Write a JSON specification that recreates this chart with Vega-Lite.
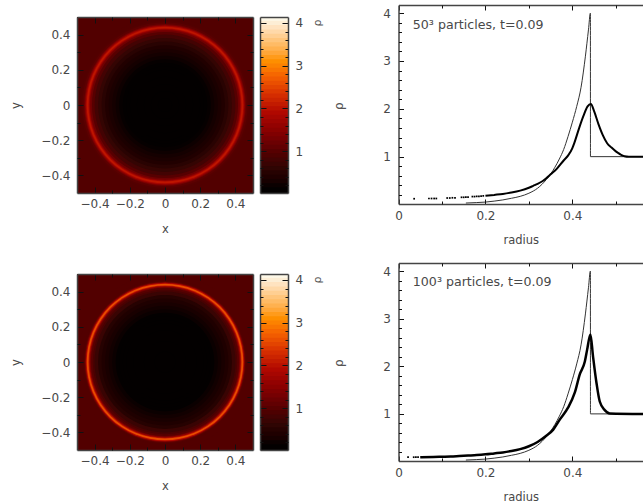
{"$schema":"https://vega.github.io/schema/vega-lite/v6.json","width":643,"height":504,"padding":0,"autosize":{"type":"none"},"background":"white","config":{"view":{"stroke":null},"axis":{"grid":false,"labelFont":"DejaVu Sans","labelFontSize":12,"labelColor":"#484848","labelFlush":false,"titleFont":"DejaVu Sans","titleFontSize":11.5,"titleFontWeight":"normal","titleColor":"#484848","tickColor":"#111","domainColor":"#444","domainWidth":1.5,"tickWidth":1,"labels":false}},"resolve":{"scale":{"x":"independent","y":"independent"},"axis":{"x":"independent","y":"independent"}},"datasets":{"img50":[{"r":0.5,"rho":1.0},{"r":0.48,"rho":1.02},{"r":0.47,"rho":1.1},{"r":0.46,"rho":1.3},{"r":0.455,"rho":1.55},{"r":0.45,"rho":1.85},{"r":0.445,"rho":2.1},{"r":0.44,"rho":2.1},{"r":0.435,"rho":1.85},{"r":0.43,"rho":1.55},{"r":0.425,"rho":1.3},{"r":0.415,"rho":1.05},{"r":0.4,"rho":0.85},{"r":0.38,"rho":0.7},{"r":0.36,"rho":0.58},{"r":0.34,"rho":0.48},{"r":0.32,"rho":0.4},{"r":0.3,"rho":0.33},{"r":0.28,"rho":0.27},{"r":0.26,"rho":0.22},{"r":0.24,"rho":0.18},{"r":0.22,"rho":0.15},{"r":0.2,"rho":0.13},{"r":0.16,"rho":0.11},{"r":0.12,"rho":0.1},{"r":0.08,"rho":0.1},{"r":0.04,"rho":0.1}],"img100":[{"r":0.5,"rho":1.0},{"r":0.47,"rho":1.0},{"r":0.46,"rho":1.1},{"r":0.455,"rho":1.4},{"r":0.45,"rho":2.0},{"r":0.445,"rho":2.6},{"r":0.44,"rho":2.65},{"r":0.435,"rho":2.1},{"r":0.43,"rho":1.6},{"r":0.425,"rho":1.25},{"r":0.42,"rho":1.05},{"r":0.41,"rho":0.9},{"r":0.4,"rho":0.75},{"r":0.38,"rho":0.55},{"r":0.36,"rho":0.45},{"r":0.34,"rho":0.37},{"r":0.32,"rho":0.3},{"r":0.3,"rho":0.25},{"r":0.28,"rho":0.2},{"r":0.26,"rho":0.17},{"r":0.24,"rho":0.14},{"r":0.22,"rho":0.12},{"r":0.18,"rho":0.1},{"r":0.12,"rho":0.09},{"r":0.06,"rho":0.09}],"p50":[{"r":0.5625,"rho":1.0},{"r":0.53,"rho":1.0},{"r":0.52,"rho":1.01},{"r":0.51,"rho":1.05},{"r":0.5,"rho":1.11},{"r":0.49,"rho":1.19},{"r":0.48,"rho":1.28},{"r":0.47,"rho":1.45},{"r":0.46,"rho":1.68},{"r":0.45,"rho":1.95},{"r":0.4425,"rho":2.1},{"r":0.435,"rho":2.05},{"r":0.425,"rho":1.84},{"r":0.415,"rho":1.58},{"r":0.405,"rho":1.3},{"r":0.4,"rho":1.18},{"r":0.39,"rho":1.02},{"r":0.38,"rho":0.92},{"r":0.3635,"rho":0.74},{"r":0.35,"rho":0.63},{"r":0.34,"rho":0.55},{"r":0.33,"rho":0.48},{"r":0.32,"rho":0.43},{"r":0.31,"rho":0.39},{"r":0.3,"rho":0.35},{"r":0.28,"rho":0.29},{"r":0.26,"rho":0.25},{"r":0.24,"rho":0.22},{"r":0.22,"rho":0.2},{"r":0.2,"rho":0.18}],"p100":[{"r":0.5625,"rho":1.0},{"r":0.486,"rho":1.01},{"r":0.4745,"rho":1.08},{"r":0.463,"rho":1.26},{"r":0.4555,"rho":1.65},{"r":0.4475,"rho":2.21},{"r":0.4415,"rho":2.67},{"r":0.434,"rho":2.35},{"r":0.4287,"rho":2.1},{"r":0.417,"rho":1.83},{"r":0.4057,"rho":1.45},{"r":0.39,"rho":1.13},{"r":0.371,"rho":0.88},{"r":0.356,"rho":0.67},{"r":0.34,"rho":0.54},{"r":0.32,"rho":0.41},{"r":0.3,"rho":0.32},{"r":0.28,"rho":0.26},{"r":0.26,"rho":0.22},{"r":0.24,"rho":0.19},{"r":0.22,"rho":0.17},{"r":0.2,"rho":0.15},{"r":0.18,"rho":0.135},{"r":0.16,"rho":0.125},{"r":0.14,"rho":0.115},{"r":0.12,"rho":0.105},{"r":0.1,"rho":0.1},{"r":0.08,"rho":0.095},{"r":0.05,"rho":0.09}],"sedov":[{"r":0.155,"rho":0.03},{"r":0.18,"rho":0.04},{"r":0.2,"rho":0.05},{"r":0.22,"rho":0.07},{"r":0.24,"rho":0.095},{"r":0.26,"rho":0.13},{"r":0.28,"rho":0.17},{"r":0.3,"rho":0.235},{"r":0.32,"rho":0.34},{"r":0.34,"rho":0.52},{"r":0.36,"rho":0.78},{"r":0.37,"rho":0.95},{"r":0.38,"rho":1.15},{"r":0.39,"rho":1.42},{"r":0.4,"rho":1.72},{"r":0.41,"rho":2.05},{"r":0.42,"rho":2.45},{"r":0.43,"rho":3.1},{"r":0.437,"rho":3.65},{"r":0.4415,"rho":4.0},{"r":0.4416,"rho":1.0},{"r":0.5625,"rho":1.0}],"d50":[{"r":0.036,"rho":0.12},{"r":0.07,"rho":0.125},{"r":0.076,"rho":0.125},{"r":0.082,"rho":0.125},{"r":0.087,"rho":0.125},{"r":0.112,"rho":0.135},{"r":0.118,"rho":0.135},{"r":0.124,"rho":0.14},{"r":0.13,"rho":0.14},{"r":0.145,"rho":0.15},{"r":0.15,"rho":0.15},{"r":0.155,"rho":0.155},{"r":0.16,"rho":0.155},{"r":0.17,"rho":0.165},{"r":0.175,"rho":0.165},{"r":0.18,"rho":0.17},{"r":0.185,"rho":0.17},{"r":0.19,"rho":0.175},{"r":0.195,"rho":0.18}],"d100":[{"r":0.022,"rho":0.09},{"r":0.035,"rho":0.09},{"r":0.04,"rho":0.09},{"r":0.045,"rho":0.09}],"frame":[{"x0":-0.5,"x1":0.5,"y0":-0.5,"y1":0.5,"rho":1.0}],"bar":[{"a":0.02,"b":4.14,"c":4.14},{"a":0.02,"b":4.05,"c":4.05},{"a":0.02,"b":3.95,"c":3.95},{"a":0.02,"b":3.85,"c":3.85},{"a":0.02,"b":3.75,"c":3.75},{"a":0.02,"b":3.65,"c":3.65},{"a":0.02,"b":3.55,"c":3.55},{"a":0.02,"b":3.45,"c":3.45},{"a":0.02,"b":3.35,"c":3.35},{"a":0.02,"b":3.25,"c":3.25},{"a":0.02,"b":3.15,"c":3.15},{"a":0.02,"b":3.05,"c":3.05},{"a":0.02,"b":2.95,"c":2.95},{"a":0.02,"b":2.85,"c":2.85},{"a":0.02,"b":2.75,"c":2.75},{"a":0.02,"b":2.65,"c":2.65},{"a":0.02,"b":2.55,"c":2.55},{"a":0.02,"b":2.45,"c":2.45},{"a":0.02,"b":2.35,"c":2.35},{"a":0.02,"b":2.25,"c":2.25},{"a":0.02,"b":2.15,"c":2.15},{"a":0.02,"b":2.05,"c":2.05},{"a":0.02,"b":1.95,"c":1.95},{"a":0.02,"b":1.85,"c":1.85},{"a":0.02,"b":1.75,"c":1.75},{"a":0.02,"b":1.65,"c":1.65},{"a":0.02,"b":1.55,"c":1.55},{"a":0.02,"b":1.45,"c":1.45},{"a":0.02,"b":1.35,"c":1.35},{"a":0.02,"b":1.25,"c":1.25},{"a":0.02,"b":1.15,"c":1.15},{"a":0.02,"b":1.05,"c":1.05},{"a":0.02,"b":0.95,"c":0.95},{"a":0.02,"b":0.85,"c":0.85},{"a":0.02,"b":0.75,"c":0.75},{"a":0.02,"b":0.65,"c":0.65},{"a":0.02,"b":0.55,"c":0.55},{"a":0.02,"b":0.45,"c":0.45},{"a":0.02,"b":0.35,"c":0.35},{"a":0.02,"b":0.25,"c":0.25},{"a":0.02,"b":0.15,"c":0.15}],"rholab":[{"u":0.24,"v":4.0,"t":"ρ","s":11},{"u":0.46,"v":2.05,"t":"ρ","s":12}]},
"layer":[
{"data":{"name":"frame"},"mark":"rect","encoding":{"x":{"field":"x0","type":"quantitative","scale":{"domain":[-0.5,0.5],"nice":false,"range":[77,253]},"axis":{"zindex":1,"orient":"bottom","offset":-311,"values":[-0.4,-0.2,0,0.2,0.4],"format":".1~f","tickSize":-6,"labels":true,"labelPadding":11,"title":"x","titlePadding":14}},"x2":{"field":"x1"},"y":{"field":"y0","type":"quantitative","scale":{"domain":[-0.5,0.5],"nice":false,"range":[193,17]},"axis":{"zindex":1,"orient":"left","offset":-77,"values":[-0.4,-0.2,0,0.2,0.4],"format":".1~f","tickSize":-6,"labels":true,"labelPadding":13,"title":"y","titlePadding":19}},"y2":{"field":"y1"},"color":{"field":"rho","type":"quantitative","legend":null,"scale":{"domain":[0,0.2,0.5,1,1.5,2,2.4,2.8,3.2,3.6,4,4.2],"range":["#000000","#030000","#220000","#520000","#850000","#b50a00","#d83000","#f56000","#ff9500","#ffc070","#ffe8cc","#fffef5"]}}}},
{"data":{"name":"img50"},"mark":{"type":"circle","opacity":1},"encoding":{"x":{"datum":0,"type":"quantitative","scale":{"domain":[-0.5,0.5],"nice":false,"range":[77,253]},"axis":null},"y":{"datum":0,"type":"quantitative","scale":{"domain":[-0.5,0.5],"nice":false,"range":[193,17]},"axis":null},"size":{"field":"r","type":"quantitative","legend":null,"scale":{"type":"pow","exponent":2,"domain":[0,0.5],"range":[0,30976]}},"color":{"field":"rho","type":"quantitative","legend":null,"scale":{"domain":[0,0.2,0.5,1,1.5,2,2.4,2.8,3.2,3.6,4,4.2],"range":["#000000","#030000","#220000","#520000","#850000","#b50a00","#d83000","#f56000","#ff9500","#ffc070","#ffe8cc","#fffef5"]}}}},
{"data":{"name":"frame"},"mark":{"type":"point","opacity":0},"encoding":{"x":{"field":"x0","type":"quantitative","scale":{"domain":[-0.5,0.5],"nice":false,"range":[77,253]},"axis":{"zindex":1,"orient":"bottom","offset":-311,"values":[-0.3,-0.1,0.1,0.3],"tickSize":-3,"domain":false,"title":null}},"y":{"field":"y0","type":"quantitative","scale":{"domain":[-0.5,0.5],"nice":false,"range":[193,17]},"axis":{"zindex":1,"orient":"left","offset":-77,"values":[-0.3,-0.1,0.1,0.3],"tickSize":-3,"domain":false,"title":null}}}},
{"data":{"name":"frame"},"mark":{"type":"point","opacity":0},"encoding":{"x":{"field":"x0","type":"quantitative","scale":{"domain":[-0.5,0.5],"nice":false,"range":[77,253]},"axis":{"zindex":1,"orient":"top","offset":-17,"values":[-0.4,-0.2,0,0.2,0.4],"tickSize":-6,"title":null}},"y":{"field":"y0","type":"quantitative","scale":{"domain":[-0.5,0.5],"nice":false,"range":[193,17]},"axis":{"zindex":1,"orient":"right","offset":-390,"values":[-0.4,-0.2,0,0.2,0.4],"tickSize":-6,"title":null}}}},
{"data":{"name":"frame"},"mark":{"type":"point","opacity":0},"encoding":{"x":{"field":"x0","type":"quantitative","scale":{"domain":[-0.5,0.5],"nice":false,"range":[77,253]},"axis":{"zindex":1,"orient":"top","offset":-17,"values":[-0.3,-0.1,0.1,0.3],"tickSize":-3,"domain":false,"title":null}},"y":{"field":"y0","type":"quantitative","scale":{"domain":[-0.5,0.5],"nice":false,"range":[193,17]},"axis":{"zindex":1,"orient":"right","offset":-390,"values":[-0.3,-0.1,0.1,0.3],"tickSize":-3,"domain":false,"title":null}}}},
{"data":{"name":"frame"},"mark":"rect","encoding":{"x":{"field":"x0","type":"quantitative","scale":{"domain":[-0.5,0.5],"nice":false,"range":[77,253]},"axis":{"zindex":1,"orient":"bottom","offset":-54,"values":[-0.4,-0.2,0,0.2,0.4],"format":".1~f","tickSize":-6,"labels":true,"labelPadding":11,"title":"x","titlePadding":14}},"x2":{"field":"x1"},"y":{"field":"y0","type":"quantitative","scale":{"domain":[-0.5,0.5],"nice":false,"range":[450,274]},"axis":{"zindex":1,"orient":"left","offset":-77,"values":[-0.4,-0.2,0,0.2,0.4],"format":".1~f","tickSize":-6,"labels":true,"labelPadding":13,"title":"y","titlePadding":19}},"y2":{"field":"y1"},"color":{"field":"rho","type":"quantitative","legend":null,"scale":{"domain":[0,0.2,0.5,1,1.5,2,2.4,2.8,3.2,3.6,4,4.2],"range":["#000000","#030000","#220000","#520000","#850000","#b50a00","#d83000","#f56000","#ff9500","#ffc070","#ffe8cc","#fffef5"]}}}},
{"data":{"name":"img100"},"mark":{"type":"circle","opacity":1},"encoding":{"x":{"datum":0,"type":"quantitative","scale":{"domain":[-0.5,0.5],"nice":false,"range":[77,253]},"axis":null},"y":{"datum":0,"type":"quantitative","scale":{"domain":[-0.5,0.5],"nice":false,"range":[450,274]},"axis":null},"size":{"field":"r","type":"quantitative","legend":null,"scale":{"type":"pow","exponent":2,"domain":[0,0.5],"range":[0,30976]}},"color":{"field":"rho","type":"quantitative","legend":null,"scale":{"domain":[0,0.2,0.5,1,1.5,2,2.4,2.8,3.2,3.6,4,4.2],"range":["#000000","#030000","#220000","#520000","#850000","#b50a00","#d83000","#f56000","#ff9500","#ffc070","#ffe8cc","#fffef5"]}}}},
{"data":{"name":"frame"},"mark":{"type":"point","opacity":0},"encoding":{"x":{"field":"x0","type":"quantitative","scale":{"domain":[-0.5,0.5],"nice":false,"range":[77,253]},"axis":{"zindex":1,"orient":"bottom","offset":-54,"values":[-0.3,-0.1,0.1,0.3],"tickSize":-3,"domain":false,"title":null}},"y":{"field":"y0","type":"quantitative","scale":{"domain":[-0.5,0.5],"nice":false,"range":[450,274]},"axis":{"zindex":1,"orient":"left","offset":-77,"values":[-0.3,-0.1,0.1,0.3],"tickSize":-3,"domain":false,"title":null}}}},
{"data":{"name":"frame"},"mark":{"type":"point","opacity":0},"encoding":{"x":{"field":"x0","type":"quantitative","scale":{"domain":[-0.5,0.5],"nice":false,"range":[77,253]},"axis":{"zindex":1,"orient":"top","offset":-274,"values":[-0.4,-0.2,0,0.2,0.4],"tickSize":-6,"title":null}},"y":{"field":"y0","type":"quantitative","scale":{"domain":[-0.5,0.5],"nice":false,"range":[450,274]},"axis":{"zindex":1,"orient":"right","offset":-390,"values":[-0.4,-0.2,0,0.2,0.4],"tickSize":-6,"title":null}}}},
{"data":{"name":"frame"},"mark":{"type":"point","opacity":0},"encoding":{"x":{"field":"x0","type":"quantitative","scale":{"domain":[-0.5,0.5],"nice":false,"range":[77,253]},"axis":{"zindex":1,"orient":"top","offset":-274,"values":[-0.3,-0.1,0.1,0.3],"tickSize":-3,"domain":false,"title":null}},"y":{"field":"y0","type":"quantitative","scale":{"domain":[-0.5,0.5],"nice":false,"range":[450,274]},"axis":{"zindex":1,"orient":"right","offset":-390,"values":[-0.3,-0.1,0.1,0.3],"tickSize":-3,"domain":false,"title":null}}}},
{"data":{"name":"bar"},"mark":"rect","encoding":{"x":{"datum":0,"type":"quantitative","scale":{"domain":[0,1],"range":[260,288]},"axis":{"zindex":1,"orient":"bottom","offset":-311,"values":[],"title":null}},"x2":{"datum":1},"y":{"field":"a","type":"quantitative","scale":{"domain":[0.02,4.14],"nice":false,"range":[193,17]},"axis":{"zindex":1,"orient":"right","offset":-355,"values":[1,2,3,4],"format":"d","tickSize":-6,"labels":true,"labelPadding":13,"title":null}},"y2":{"field":"b"},"color":{"field":"c","type":"quantitative","legend":null,"scale":{"domain":[0,0.2,0.5,1,1.5,2,2.4,2.8,3.2,3.6,4,4.2],"range":["#000000","#030000","#220000","#520000","#850000","#b50a00","#d83000","#f56000","#ff9500","#ffc070","#ffe8cc","#fffef5"]}}}},
{"data":{"name":"frame"},"mark":{"type":"point","opacity":0},"encoding":{"x":{"datum":0,"type":"quantitative","scale":{"domain":[0,1],"range":[260,288]},"axis":{"zindex":1,"orient":"top","offset":-17,"values":[],"title":null}},"y":{"field":"rho","type":"quantitative","scale":{"domain":[0.02,4.14],"nice":false,"range":[193,17]},"axis":{"zindex":1,"orient":"right","offset":-355,"values":[0.2,0.4,0.6,0.8,1.2,1.4,1.6,1.8,2.2,2.4,2.6,2.8,3.2,3.4,3.6,3.8],"tickSize":-3,"domain":false,"title":null}}}},
{"data":{"name":"frame"},"mark":{"type":"point","opacity":0},"encoding":{"x":{"datum":0,"type":"quantitative","scale":{"domain":[0,1],"range":[260,288]},"axis":null},"y":{"field":"rho","type":"quantitative","scale":{"domain":[0.02,4.14],"nice":false,"range":[193,17]},"axis":{"zindex":1,"orient":"left","offset":-260,"values":[1,2,3,4],"tickSize":-6,"title":null}}}},
{"data":{"name":"frame"},"mark":{"type":"point","opacity":0},"encoding":{"x":{"datum":0,"type":"quantitative","scale":{"domain":[0,1],"range":[260,288]},"axis":null},"y":{"field":"rho","type":"quantitative","scale":{"domain":[0.02,4.14],"nice":false,"range":[193,17]},"axis":{"zindex":1,"orient":"left","offset":-260,"values":[0.2,0.4,0.6,0.8,1.2,1.4,1.6,1.8,2.2,2.4,2.6,2.8,3.2,3.4,3.6,3.8],"tickSize":-3,"domain":false,"title":null}}}},
{"data":{"name":"bar"},"mark":"rect","encoding":{"x":{"datum":0,"type":"quantitative","scale":{"domain":[0,1],"range":[260,288]},"axis":{"zindex":1,"orient":"bottom","offset":-54,"values":[],"title":null}},"x2":{"datum":1},"y":{"field":"a","type":"quantitative","scale":{"domain":[0.02,4.14],"nice":false,"range":[450,274]},"axis":{"zindex":1,"orient":"right","offset":-355,"values":[1,2,3,4],"format":"d","tickSize":-6,"labels":true,"labelPadding":13,"title":null}},"y2":{"field":"b"},"color":{"field":"c","type":"quantitative","legend":null,"scale":{"domain":[0,0.2,0.5,1,1.5,2,2.4,2.8,3.2,3.6,4,4.2],"range":["#000000","#030000","#220000","#520000","#850000","#b50a00","#d83000","#f56000","#ff9500","#ffc070","#ffe8cc","#fffef5"]}}}},
{"data":{"name":"frame"},"mark":{"type":"point","opacity":0},"encoding":{"x":{"datum":0,"type":"quantitative","scale":{"domain":[0,1],"range":[260,288]},"axis":{"zindex":1,"orient":"top","offset":-274,"values":[],"title":null}},"y":{"field":"rho","type":"quantitative","scale":{"domain":[0.02,4.14],"nice":false,"range":[450,274]},"axis":{"zindex":1,"orient":"right","offset":-355,"values":[0.2,0.4,0.6,0.8,1.2,1.4,1.6,1.8,2.2,2.4,2.6,2.8,3.2,3.4,3.6,3.8],"tickSize":-3,"domain":false,"title":null}}}},
{"data":{"name":"frame"},"mark":{"type":"point","opacity":0},"encoding":{"x":{"datum":0,"type":"quantitative","scale":{"domain":[0,1],"range":[260,288]},"axis":null},"y":{"field":"rho","type":"quantitative","scale":{"domain":[0.02,4.14],"nice":false,"range":[450,274]},"axis":{"zindex":1,"orient":"left","offset":-260,"values":[1,2,3,4],"tickSize":-6,"title":null}}}},
{"data":{"name":"frame"},"mark":{"type":"point","opacity":0},"encoding":{"x":{"datum":0,"type":"quantitative","scale":{"domain":[0,1],"range":[260,288]},"axis":null},"y":{"field":"rho","type":"quantitative","scale":{"domain":[0.02,4.14],"nice":false,"range":[450,274]},"axis":{"zindex":1,"orient":"left","offset":-260,"values":[0.2,0.4,0.6,0.8,1.2,1.4,1.6,1.8,2.2,2.4,2.6,2.8,3.2,3.4,3.6,3.8],"tickSize":-3,"domain":false,"title":null}}}},
{"data":{"name":"rholab"},"mark":{"type":"text","angle":270,"color":"#555","font":"DejaVu Sans"},"encoding":{"x":{"field":"u","type":"quantitative","scale":{"domain":[0,1],"range":[295,391]},"axis":null},"y":{"field":"v","type":"quantitative","scale":{"domain":[0.02,4.14],"nice":false,"range":[193,17]},"axis":null},"text":{"field":"t"},"size":{"field":"s","type":"quantitative","scale":null}}},
{"data":{"name":"rholab"},"mark":{"type":"text","angle":270,"color":"#555","font":"DejaVu Sans"},"encoding":{"x":{"field":"u","type":"quantitative","scale":{"domain":[0,1],"range":[295,391]},"axis":null},"y":{"field":"v","type":"quantitative","scale":{"domain":[0.02,4.14],"nice":false,"range":[450,274]},"axis":null},"text":{"field":"t"},"size":{"field":"s","type":"quantitative","scale":null}}},
{"data":{"name":"sedov"},"mark":{"type":"line","color":"#333","strokeWidth":1,"interpolate":"monotone"},"encoding":{"x":{"field":"r","type":"quantitative","scale":{"domain":[0,0.5625],"nice":false,"range":[398.5,643]},"axis":{"zindex":1,"orient":"bottom","offset":-300,"values":[0,0.2,0.4],"format":".1~f","tickSize":-5,"labels":true,"labelPadding":11,"title":"radius","titlePadding":13}},"y":{"field":"rho","type":"quantitative","scale":{"domain":[0.01,4.17],"nice":false,"range":[204,5]},"axis":{"zindex":1,"orient":"left","offset":-398.5,"values":[1,2,3,4],"format":"d","tickSize":-5,"labels":true,"labelPadding":13,"title":null}}}},
{"data":{"name":"p50"},"mark":{"type":"line","color":"#000","strokeWidth":2,"interpolate":"monotone"},"encoding":{"x":{"field":"r","type":"quantitative","scale":{"domain":[0,0.5625],"nice":false,"range":[398.5,643]},"axis":{"zindex":1,"orient":"bottom","offset":-300,"values":[0.1,0.3,0.5],"tickSize":-3,"domain":false,"title":null}},"y":{"field":"rho","type":"quantitative","scale":{"domain":[0.01,4.17],"nice":false,"range":[204,5]},"axis":{"zindex":1,"orient":"left","offset":-398.5,"values":[0.2,0.4,0.6,0.8,1.2,1.4,1.6,1.8,2.2,2.4,2.6,2.8,3.2,3.4,3.6,3.8],"tickSize":-3,"domain":false,"title":null}}}},
{"data":{"name":"d50"},"mark":{"type":"square","size":3,"color":"#000","opacity":1},"encoding":{"x":{"field":"r","type":"quantitative","scale":{"domain":[0,0.5625],"nice":false,"range":[398.5,643]},"axis":{"zindex":1,"orient":"top","offset":-5,"values":[0,0.2,0.4],"tickSize":-5,"title":null}},"y":{"field":"rho","type":"quantitative","scale":{"domain":[0.01,4.17],"nice":false,"range":[204,5]},"axis":null}}},
{"data":{"values":[{"r":0.033,"rho":3.755,"t":"50³ particles, t=0.09"}]},"mark":{"type":"text","align":"left","font":"DejaVu Sans","fontSize":12.6,"color":"#484848"},"encoding":{"x":{"field":"r","type":"quantitative","scale":{"domain":[0,0.5625],"nice":false,"range":[398.5,643]},"axis":{"zindex":1,"orient":"top","offset":-5,"values":[0.1,0.3,0.5],"tickSize":-3,"domain":false,"title":null}},"y":{"field":"rho","type":"quantitative","scale":{"domain":[0.01,4.17],"nice":false,"range":[204,5]},"axis":null},"text":{"field":"t"}}},
{"data":{"name":"sedov"},"mark":{"type":"line","color":"#333","strokeWidth":1,"interpolate":"monotone"},"encoding":{"x":{"field":"r","type":"quantitative","scale":{"domain":[0,0.5625],"nice":false,"range":[398.5,643]},"axis":{"zindex":1,"orient":"bottom","offset":-43,"values":[0,0.2,0.4],"format":".1~f","tickSize":-5,"labels":true,"labelPadding":11,"title":"radius","titlePadding":13}},"y":{"field":"rho","type":"quantitative","scale":{"domain":[0.01,4.17],"nice":false,"range":[461,263]},"axis":{"zindex":1,"orient":"left","offset":-398.5,"values":[1,2,3,4],"format":"d","tickSize":-5,"labels":true,"labelPadding":13,"title":null}}}},
{"data":{"name":"p100"},"mark":{"type":"line","color":"#000","strokeWidth":2.5,"interpolate":"monotone"},"encoding":{"x":{"field":"r","type":"quantitative","scale":{"domain":[0,0.5625],"nice":false,"range":[398.5,643]},"axis":{"zindex":1,"orient":"bottom","offset":-43,"values":[0.1,0.3,0.5],"tickSize":-3,"domain":false,"title":null}},"y":{"field":"rho","type":"quantitative","scale":{"domain":[0.01,4.17],"nice":false,"range":[461,263]},"axis":{"zindex":1,"orient":"left","offset":-398.5,"values":[0.2,0.4,0.6,0.8,1.2,1.4,1.6,1.8,2.2,2.4,2.6,2.8,3.2,3.4,3.6,3.8],"tickSize":-3,"domain":false,"title":null}}}},
{"data":{"name":"d100"},"mark":{"type":"square","size":3,"color":"#000","opacity":1},"encoding":{"x":{"field":"r","type":"quantitative","scale":{"domain":[0,0.5625],"nice":false,"range":[398.5,643]},"axis":{"zindex":1,"orient":"top","offset":-263,"values":[0,0.2,0.4],"tickSize":-5,"title":null}},"y":{"field":"rho","type":"quantitative","scale":{"domain":[0.01,4.17],"nice":false,"range":[461,263]},"axis":null}}},
{"data":{"values":[{"r":0.033,"rho":3.78,"t":"100³ particles, t=0.09"}]},"mark":{"type":"text","align":"left","font":"DejaVu Sans","fontSize":12.6,"color":"#484848"},"encoding":{"x":{"field":"r","type":"quantitative","scale":{"domain":[0,0.5625],"nice":false,"range":[398.5,643]},"axis":{"zindex":1,"orient":"top","offset":-263,"values":[0.1,0.3,0.5],"tickSize":-3,"domain":false,"title":null}},"y":{"field":"rho","type":"quantitative","scale":{"domain":[0.01,4.17],"nice":false,"range":[461,263]},"axis":null},"text":{"field":"t"}}}
]}
